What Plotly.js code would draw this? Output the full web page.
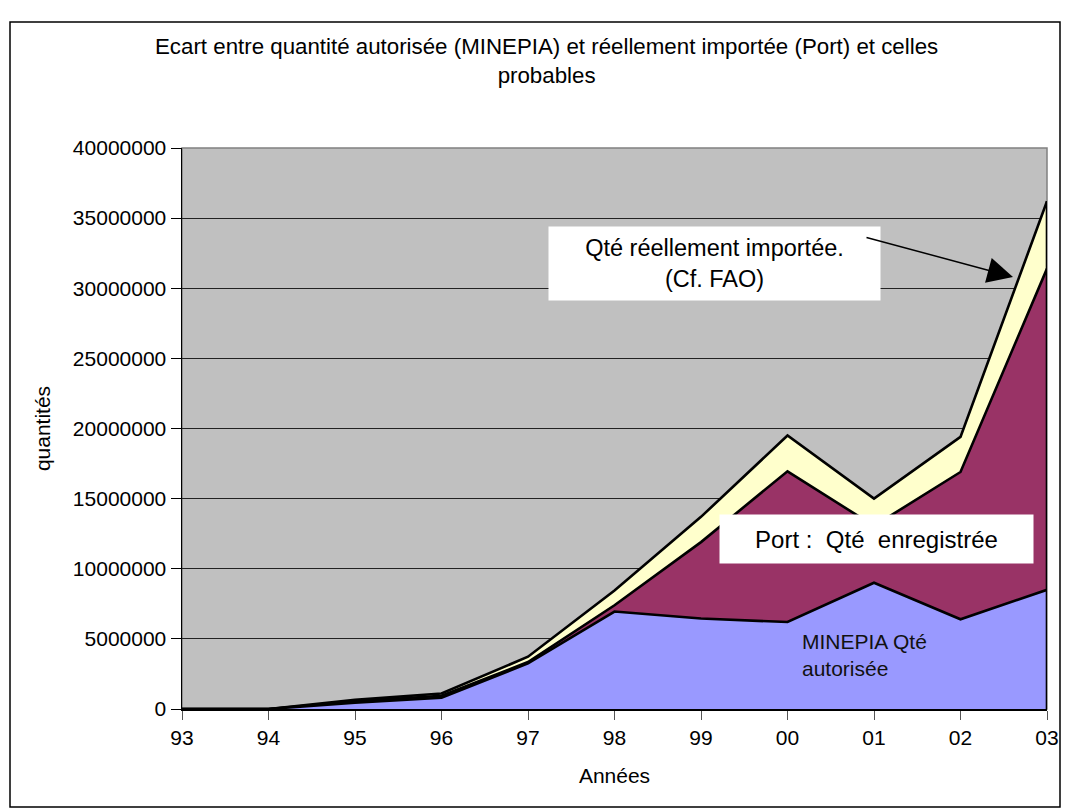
<!DOCTYPE html>
<html>
<head>
<meta charset="utf-8">
<script src="https://cdn.plot.ly/plotly-3.0.1.min.js"></script>
<style>html,body{margin:0;padding:0;background:#fff;}#chart{width:1069px;height:810px;}</style>
</head>
<body>
<div id="chart"></div>
<script>
const years = ["93","94","95","96","97","98","99","00","01","02","03"];
const minepia = [0, 0, 450000, 800000, 3250000, 6950000, 6450000, 6200000, 9000000, 6400000, 8500000];
const port = [0, 0, 550000, 950000, 3350000, 7400000, 11900000, 16950000, 13050000, 16900000, 31400000];
const fao = [0, 0, 650000, 1100000, 3730000, 8450000, 13700000, 19500000, 15000000, 19400000, 36200000];
const yTicks = [0, 5000000, 10000000, 15000000, 20000000, 25000000, 30000000, 35000000, 40000000];

const FONT = "Liberation Sans, Arial, sans-serif";
// plot area in pixels
const L = 182, R = 1047, T = 148, B = 709, W = 1069, H = 810;
const px = v => (v - L) / (R - L);
const py = v => (B - v) / (B - T);

function area(y, color, name) {
  return {x: years, y: y, type: 'scatter', mode: 'lines', fill: 'tozeroy',
    fillcolor: color, line: {color: '#000', width: 2.6}, name: name, hoverinfo: 'skip'};
}
const traces = [
  area(fao, '#FFFFCC', 'FAO'),
  area(port, '#993366', 'Port'),
  area(minepia, '#9999FF', 'MINEPIA')
];
const last = years.length - 1;

const layout = {
  width: W, height: H, showlegend: false,
  paper_bgcolor: '#fff', plot_bgcolor: '#C0C0C0',
  margin: {l: L, r: W - R, t: T, b: H - B},
  font: {family: FONT, color: '#000'},
  xaxis: {type: 'category', range: [0, last], showgrid: false, zeroline: false,
    showline: true, linecolor: '#000', linewidth: 1.5, ticks: 'outside', ticklen: 9,
    tickcolor: '#555', tickfont: {size: 21, family: FONT}, fixedrange: true,
    title: {text: 'Années', font: {size: 21, family: FONT}, standoff: 20}},
  yaxis: {range: [0, 40000000], tickvals: yTicks, ticktext: yTicks.map(String),
    showgrid: true, gridcolor: '#222', gridwidth: 1, zeroline: false,
    showline: true, linecolor: '#000', linewidth: 1.5, ticks: 'outside', ticklen: 10,
    tickcolor: '#000', tickfont: {size: 21, family: FONT}, fixedrange: true,
    title: {text: 'quantités', font: {size: 21, family: FONT}, standoff: 16}},
  shapes: [
    {type: 'rect', xref: 'paper', yref: 'paper', x0: 0, x1: 1, y0: 0, y1: 1,
      line: {color: '#808080', width: 1.5}, layer: 'below'},
    {type: 'line', xref: 'x', yref: 'y', x0: last, x1: last, y0: 0, y1: fao[last],
      line: {color: '#000', width: 2.6}},
    {type: 'rect', xref: 'paper', yref: 'paper', x0: px(10), x1: px(1060), y0: py(807), y1: py(22),
      line: {color: '#000', width: 1.5}}
  ],
  annotations: [
    {xref: 'paper', yref: 'paper', x: px(546), y: py(61), xanchor: 'center', yanchor: 'middle',
      showarrow: false, align: 'center',
      text: 'Ecart entre quantité autorisée (MINEPIA) et réellement importée (Port) et celles<br>probables',
      font: {size: 22.3, family: FONT}},
    {xref: 'paper', yref: 'paper', x: px(714.5), y: py(263.5), xanchor: 'center', yanchor: 'middle',
      showarrow: false, align: 'center', bgcolor: '#fff', borderpad: 0, width: 331, height: 73,
      text: 'Qté réellement importée.<br>(Cf. FAO)', font: {size: 23.5, family: FONT}},
    {xref: 'paper', yref: 'paper', x: px(1013), y: py(277), showarrow: true, text: '',
      axref: 'pixel', ayref: 'pixel', ax: 865 - 1013, ay: 237 - 277,
      arrowhead: 2, arrowsize: 3.4, arrowwidth: 1.5, arrowcolor: '#000'},
    {xref: 'paper', yref: 'paper', x: px(876.5), y: py(539), xanchor: 'center', yanchor: 'middle',
      showarrow: false, align: 'center', bgcolor: '#fff', borderpad: 0, width: 313, height: 48,
      text: 'Port :  Qté  enregistrée', font: {size: 24, family: FONT}},
    {xref: 'paper', yref: 'paper', x: px(800), y: py(655), xanchor: 'left', yanchor: 'middle',
      showarrow: false, align: 'left',
      text: 'MINEPIA Qté<br>autorisée', font: {size: 21, family: FONT, color: '#111'}}
  ]
};
Plotly.newPlot('chart', traces, layout, {staticPlot: true, displayModeBar: false});
</script>
</body>
</html>
